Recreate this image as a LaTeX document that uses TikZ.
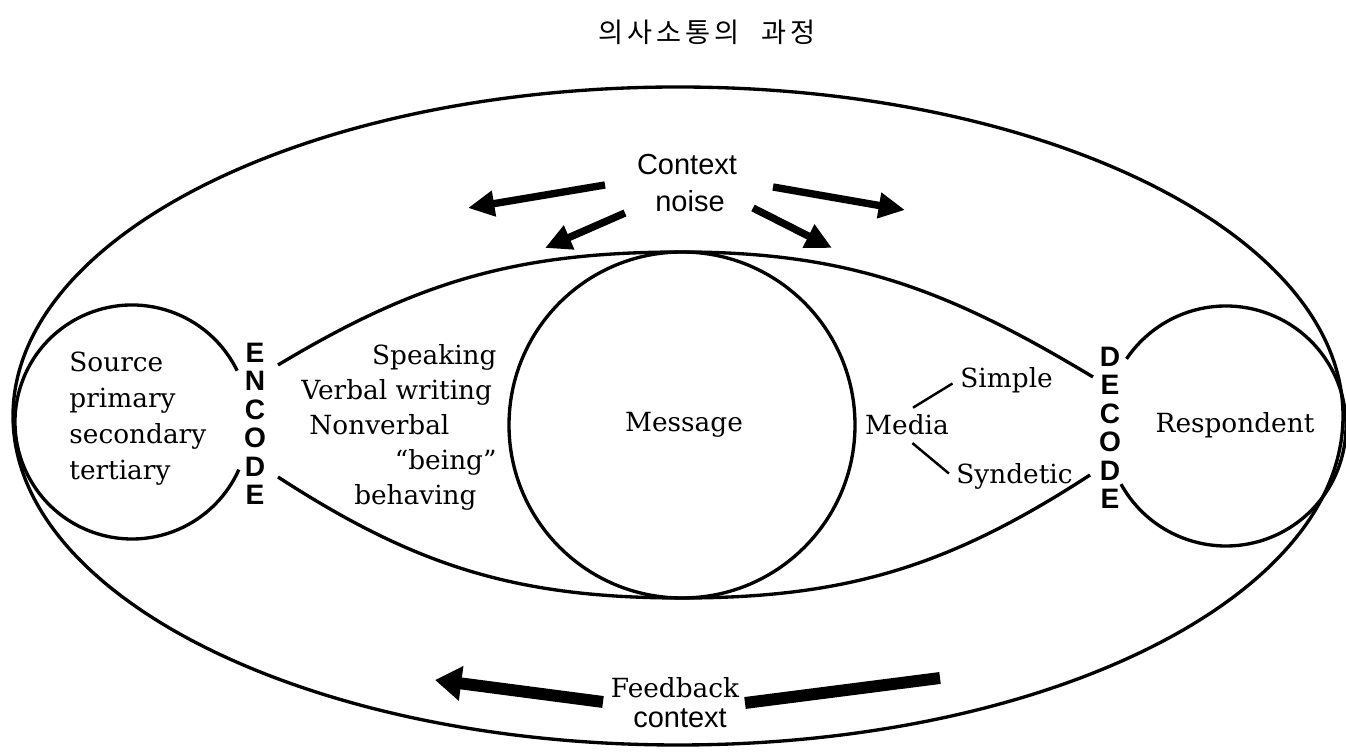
\documentclass[tikz,border=0pt]{standalone}
\usepackage{fontspec}
\setmainfont{DejaVu Serif}
\setsansfont{Liberation Sans}
\newfontfamily\korfont[LetterSpace=15]{Noto Sans CJK KR}
\usetikzlibrary{arrows.meta}

\begin{document}
\begin{tikzpicture}[x=0.02cm,y=0.02cm,line width=1.9pt,
    lbl/.style={font=\fontsize{15}{20.5}\selectfont,inner sep=1pt},
    sanslbl/.style={font=\fontsize{16.5}{19}\selectfont\sffamily,inner sep=1pt},
    codestack/.style={font=\fontsize{16}{16.2}\selectfont\sffamily\bfseries,align=center,inner sep=0pt},
    noisearrow/.style={line width=4.2pt,-{Triangle[length=15pt,width=14pt]}},
    feedarrow/.style={line width=6.8pt}]
  \useasboundingbox (0,0) rectangle (1346,753);
  \node[font=\korfont\fontsize{15.5}{16}\selectfont] (title) at (707,721) {의사소통의\hspace{0.8em}과정};
  \draw (678,337) ellipse [x radius=665, y radius=329];
  \draw (132,331) ++(26:117) arc [start angle=26, end angle=336, radius=117];
  \draw (1226,327) ++(-151:120) arc [start angle=-151, end angle=146, radius=120];
  \draw (682,328) circle [radius=173];
  \coordinate (lensTL) at (278,388);
  \coordinate (lensT) at (682,501);
  \coordinate (lensTR) at (1093,376);
  \coordinate (lensBL) at (278,276);
  \coordinate (lensB) at (682,155);
  \coordinate (lensBR) at (1090,278);
  \draw (lensTL) to[out=31,in=180] (lensT) to[out=0,in=149] (lensTR);
  \draw (lensBL) to[out=-33,in=180] (lensB) to[out=0,in=213] (lensBR);
  \node[lbl,align=left,anchor=west] (source) at (66,334) {Source\\primary\\secondary\\tertiary};
  \node[lbl] (respondent) at (1235,328) {Respondent};
  \node[lbl] (message) at (684,328) {Message};
  \node[lbl,anchor=base east] (speaking) at (500,388) {Speaking};
  \node[lbl,anchor=base west] (verbal) at (298,353) {Verbal writing};
  \node[lbl,anchor=base west] (nonverbal) at (306,318) {Nonverbal};
  \node[lbl,anchor=base east] (being) at (500,283) {``being''};
  \node[lbl,anchor=base east] (behaving) at (480,248) {behaving};
  \node[lbl] (media) at (907,328) {Media};
  \node[lbl,anchor=base west] (simple) at (957,365) {Simple};
  \node[lbl,anchor=base west] (syndetic) at (953,269) {Syndetic};
  \draw[line width=1.4pt,shorten <=4pt,shorten >=3pt] (media.north) -- (simple.west);
  \draw[line width=1.4pt,shorten <=4pt,shorten >=3pt] (media.south) -- (syndetic.west);
  \node[codestack] (encode) at (255,329) {E\\N\\C\\O\\D\\E};
  \node[codestack] (decode) at (1110,325) {D\\E\\C\\O\\D\\E};
  \node[sanslbl,anchor=base] (context) at (687,578) {Context};
  \node[sanslbl,anchor=base] (noise) at (690,541) {noise};
  \coordinate (ctxUL) at (605,568);
  \coordinate (tipUL) at (468,545);
  \coordinate (ctxLL) at (625,540);
  \coordinate (tipLL) at (545,505);
  \coordinate (ctxUR) at (773,566);
  \coordinate (tipUR) at (905,543);
  \coordinate (ctxLR) at (753,545);
  \coordinate (tipLR) at (832,505);
  \draw[noisearrow] (ctxUL) -- (tipUL);
  \draw[noisearrow] (ctxLL) -- (tipLL);
  \draw[noisearrow] (ctxUR) -- (tipUR);
  \draw[noisearrow] (ctxLR) -- (tipLR);
  \node[lbl,anchor=base] (feedback) at (675,55) {Feedback};
  \node[sanslbl,anchor=base] (fbcontext) at (680,25) {context};
  \coordinate (fbtail) at (603,51);
  \coordinate (fbtip) at (435,73);
  \coordinate (fbbarL) at (745,50);
  \coordinate (fbbarR) at (940,75);
  \draw[feedarrow,-{Triangle[length=15pt,width=19pt]}] (fbtail) -- (fbtip);
  \draw[feedarrow] (fbbarL) -- (fbbarR);
\end{tikzpicture}
\end{document}
